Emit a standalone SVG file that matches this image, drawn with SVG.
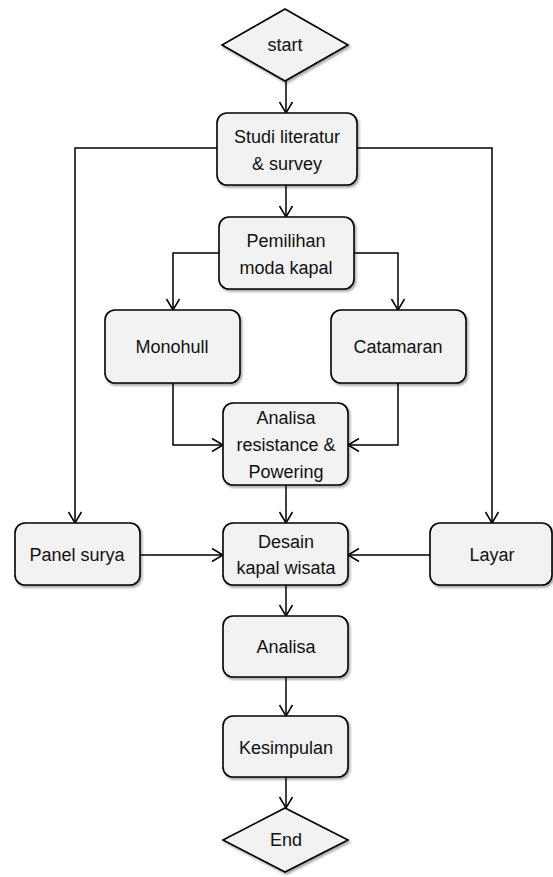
<svg xmlns="http://www.w3.org/2000/svg" width="553" height="877" viewBox="0 0 553 877">
<style>
.n{fill:#f2f2f2;stroke:#000;stroke-width:1.6;filter:url(#sh)}
.t{font-family:"Liberation Sans",Arial,sans-serif;font-size:18px;fill:#111;text-anchor:middle}
.c{fill:none;stroke:#000;stroke-width:1.5;marker-end:url(#a)}
</style>
<defs>
<filter id="sh" x="-10%" y="-10%" width="125%" height="130%">
<feDropShadow dx="1.5" dy="2" stdDeviation="1.2" flood-color="#000" flood-opacity="0.35"/>
</filter>
<marker id="a" markerUnits="userSpaceOnUse" markerWidth="16" markerHeight="16" viewBox="0 0 16 16" refX="13" refY="8" orient="auto">
<path d="M2,1.5 L13,8 L2,14.5" fill="none" stroke="#000" stroke-width="1.5"/>
</marker>
</defs>
<rect width="553" height="877" fill="#fff"/>
<g id="connectors">
<path class="c" d="M286,81 V113"/>
<path class="c" d="M286,185 V217"/>
<path class="c" d="M217,148 H75 V523"/>
<path class="c" d="M357,148 H492 V523"/>
<path class="c" d="M219,253 H173 V310"/>
<path class="c" d="M354,253 H398 V310"/>
<path class="c" d="M173,383 V445 H223"/>
<path class="c" d="M398,383 V445 H348"/>
<path class="c" d="M286,485 V523"/>
<path class="c" d="M140,555 H223"/>
<path class="c" d="M430,555 H348"/>
<path class="c" d="M286,585 V616"/>
<path class="c" d="M286,677 V716"/>
<path class="c" d="M286,777 V808"/>
</g>
<g id="start"><polygon class="n" points="285,9 348,45 285,81 222,45"/><text class="t" x="285" y="51">start</text></g>
<g id="studi"><rect class="n" x="217" y="113" width="140" height="72" rx="10"/><text class="t" x="287" y="143">Studi literatur</text><text class="t" x="287" y="170">&amp; survey</text></g>
<g id="pemilihan"><rect class="n" x="219" y="217" width="135" height="72" rx="10"/><text class="t" x="286" y="247">Pemilihan</text><text class="t" x="286" y="274">moda kapal</text></g>
<g id="monohull"><rect class="n" x="105" y="310" width="135" height="73" rx="10"/><text class="t" x="172" y="353">Monohull</text></g>
<g id="catamaran"><rect class="n" x="331" y="310" width="135" height="73" rx="10"/><text class="t" x="398" y="353">Catamaran</text></g>
<g id="analisa-res"><rect class="n" x="223" y="403" width="125" height="82" rx="10"/><text class="t" x="286" y="424">Analisa</text><text class="t" x="286" y="451">resistance &amp;</text><text class="t" x="286" y="478">Powering</text></g>
<g id="panel"><rect class="n" x="15" y="523" width="125" height="62" rx="10"/><text class="t" x="77" y="561">Panel surya</text></g>
<g id="desain"><rect class="n" x="223" y="523" width="125" height="62" rx="10"/><text class="t" x="286" y="548">Desain</text><text class="t" x="286" y="574">kapal wisata</text></g>
<g id="layar"><rect class="n" x="430" y="523" width="122" height="62" rx="10"/><text class="t" x="492" y="561">Layar</text></g>
<g id="analisa"><rect class="n" x="223" y="616" width="125" height="61" rx="10"/><text class="t" x="286" y="653">Analisa</text></g>
<g id="kesimpulan"><rect class="n" x="223" y="716" width="125" height="61" rx="10"/><text class="t" x="286" y="754">Kesimpulan</text></g>
<g id="end"><polygon class="n" points="285,808 348,840 285,872 223,840"/><text class="t" x="286" y="846">End</text></g>
</svg>
